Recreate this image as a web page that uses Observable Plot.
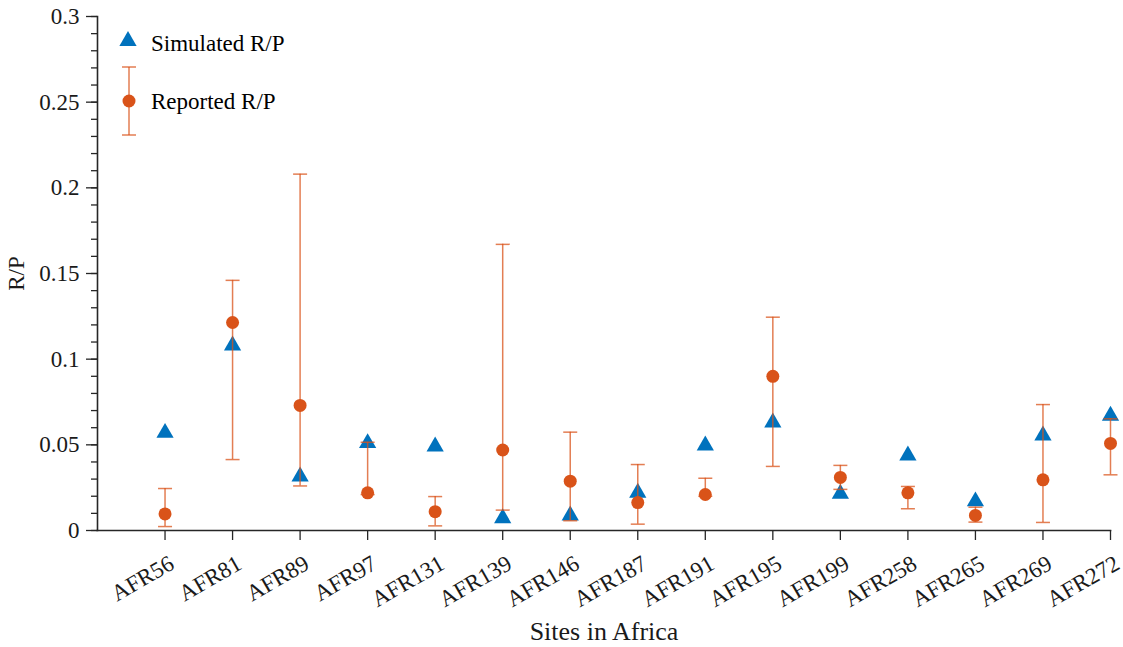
<!DOCTYPE html>
<html>
<head>
<meta charset="utf-8">
<script src="https://cdn.jsdelivr.net/npm/d3@7"></script>
<script src="https://cdn.jsdelivr.net/npm/@observablehq/plot@0.6"></script>
<style>
  html, body { margin: 0; padding: 0; background: #fff; }
  #wrap { position: relative; width: 1123px; height: 647px; }
  #wrap svg text { font-family: 'Liberation Serif', 'Times New Roman', serif; }
  #legend { position: absolute; left: 0; top: 0; pointer-events: none; }
</style>
</head>
<body>
<div id="wrap"></div>
<script>
const sites = ["AFR56","AFR81","AFR89","AFR97","AFR131","AFR139","AFR146","AFR187","AFR191","AFR195","AFR199","AFR258","AFR265","AFR269","AFR272"];
const simulated = [0.057,0.108,0.0315,0.051,0.049,0.0072,0.0088,0.022,0.0496,0.063,0.0215,0.0438,0.017,0.0555,0.067];
const reported = [0.0097,0.1214,0.073,0.022,0.011,0.047,0.0288,0.0163,0.021,0.090,0.031,0.022,0.0088,0.0296,0.0508];
const reportedLow = [0.0023,0.0414,0.026,0.021,0.0027,0.0119,0.0057,0.0037,0.020,0.0374,0.024,0.0127,0.0049,0.0047,0.0325];
const reportedHigh = [0.0245,0.146,0.208,0.0515,0.0198,0.167,0.0574,0.0385,0.0305,0.1245,0.038,0.0257,0.0136,0.0735,0.0652];
const yTicks = [0, 0.05, 0.1, 0.15, 0.2, 0.25, 0.3];
const yMinorTicks = d3.range(0, 31).map(k => k / 100);

const blue = "#0072BD", orange = "#D95319", axisColor = "#262626";
const font = "'Liberation Serif', 'Times New Roman', serif";

const rows = sites.map((s, i) => ({site: s, pos: i + 1, sim: simulated[i], rep: reported[i], lo: reportedLow[i], hi: reportedHigh[i]}));
const xTicks = rows.map(d => d.pos);

const cap = { draw(ctx, size) { const w = Math.sqrt(size / Math.PI); ctx.moveTo(-w, 0); ctx.lineTo(w, 0); } };

const chart = Plot.plot({
  width: 1123, height: 647,
  marginLeft: 97, marginRight: 13, marginTop: 16, marginBottom: 117,
  style: `font-family: ${font}; font-size: 23px; color: ${axisColor}; background: #fff;`,
  x: { domain: [0, sites.length] },
  y: { domain: [0, 0.3] },
  marks: [
    Plot.axisY({ ticks: yMinorTicks, tickSize: 6, tickFormat: () => "", label: null, stroke: axisColor, strokeWidth: 1.3 }),
    Plot.axisY({ ticks: yTicks, tickSize: 11, tickPadding: 7, tickFormat: d => d3.format("~g")(d), stroke: axisColor, strokeWidth: 1.3,
      label: "R/P", labelAnchor: "center", labelArrow: "none", labelOffset: 90, fontSize: 23, fill: "#1a1a1a" }),
    Plot.axisX({ ticks: xTicks, tickSize: 10, tickFormat: () => "", stroke: axisColor, strokeWidth: 1.3, label: null }),
    Plot.axisX({ ticks: xTicks, tickSize: 0, tickRotate: -30, tickPadding: 31, dx: 7, tickFormat: p => sites[p - 1],
      fontSize: 23, fill: "#1a1a1a", label: null }),
    Plot.axisX({ ticks: [], label: "Sites in Africa", labelAnchor: "center", labelArrow: "none", labelOffset: 109, fontSize: 26, fill: "#1a1a1a" }),
    Plot.frame({ anchor: "left", stroke: axisColor, strokeWidth: 1.6 }),
    Plot.frame({ anchor: "bottom", stroke: axisColor, strokeWidth: 1.6 }),
    Plot.dot(rows, { x: "pos", y: "sim", symbol: "triangle", r: 6.4, fill: blue, stroke: "none" }),
    Plot.ruleX(rows, { x: "pos", y1: "lo", y2: "hi", stroke: orange, strokeOpacity: 0.75, strokeWidth: 1.5 }),
    Plot.dot(rows, { x: "pos", y: "lo", symbol: cap, r: 7, stroke: orange, strokeOpacity: 0.75, strokeWidth: 1.5, fill: "none" }),
    Plot.dot(rows, { x: "pos", y: "hi", symbol: cap, r: 7, stroke: orange, strokeOpacity: 0.75, strokeWidth: 1.5, fill: "none" }),
    Plot.dot(rows, { x: "pos", y: "rep", r: 6.5, fill: orange, stroke: "none" })
  ]
});
document.getElementById("wrap").appendChild(chart);

// Legend overlay (inside plot area, top-left)
const legend = d3.select("#wrap").append("svg")
  .attr("id", "legend").attr("width", 1123).attr("height", 647)
  .style("font-family", font).style("font-size", "23px");
const tri = d3.symbol(d3.symbolTriangle, 6.4 * 6.4 * Math.PI)();
legend.append("path").attr("d", tri).attr("transform", "translate(128,41)").attr("fill", blue);
legend.append("text").attr("x", 151).attr("y", 51).attr("fill", "#000").text("Simulated R/P");
const eg = legend.append("g").attr("stroke", orange).attr("stroke-opacity", 0.75).attr("stroke-width", 1.5);
eg.append("line").attr("x1", 129).attr("x2", 129).attr("y1", 67).attr("y2", 135);
eg.append("line").attr("x1", 122).attr("x2", 136).attr("y1", 67).attr("y2", 67);
eg.append("line").attr("x1", 122).attr("x2", 136).attr("y1", 135).attr("y2", 135);
legend.append("circle").attr("cx", 129).attr("cy", 101).attr("r", 6.5).attr("fill", orange);
legend.append("text").attr("x", 151).attr("y", 109).attr("fill", "#000").text("Reported R/P");
</script>
</body>
</html>
